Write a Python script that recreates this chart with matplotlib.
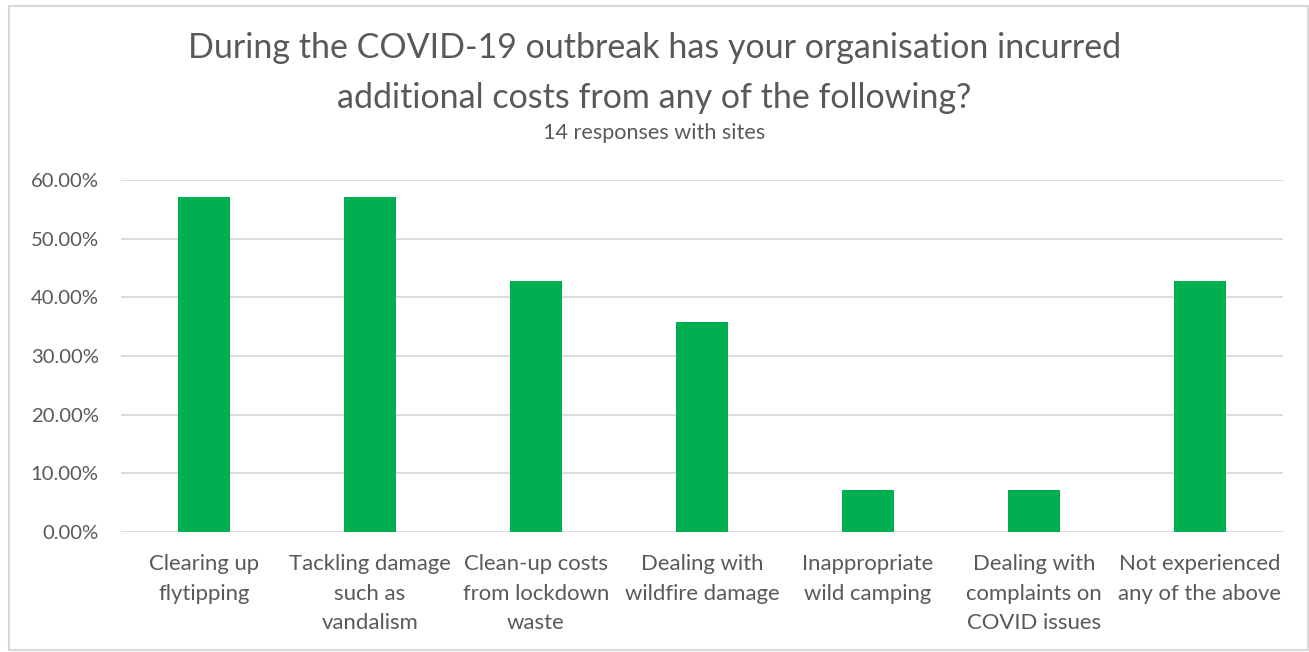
import matplotlib.pyplot as plt
from matplotlib.patches import Rectangle
from matplotlib.ticker import FuncFormatter

# Survey results: share of the 14 responding sites reporting each extra cost
categories = [
    "Clearing up\nflytipping",
    "Tackling damage\nsuch as\nvandalism",
    "Clean-up costs\nfrom lockdown\nwaste",
    "Dealing with\nwildfire damage",
    "Inappropriate\nwild camping",
    "Dealing with\ncomplaints on\nCOVID issues",
    "Not experienced\nany of the above",
]
shares = [8 / 14, 8 / 14, 6 / 14, 5 / 14, 1 / 14, 1 / 14, 6 / 14]
y_ticks = [0.0, 0.1, 0.2, 0.3, 0.4, 0.5, 0.6]

TEXT = "#595959"
GRID = "#d9d9d9"
GREEN = "#00b050"

plt.rcParams["font.family"] = ["Lato", "DejaVu Sans"]

W, H = 1309, 652
fig = plt.figure(figsize=(W / 100, H / 100), dpi=100)

# chart border
fig.patches.append(Rectangle((9 / W, 2 / H), 1299 / W, 644 / H, transform=fig.transFigure,
                             fill=False, edgecolor=GRID, linewidth=1.5))

ax = fig.add_axes([121 / W, 1 - 532 / H, 1162 / W, 352 / H])
x = range(len(categories))
ax.bar(x, shares, width=0.313, color=GREEN, zorder=3)

ax.set_xlim(-0.5, len(categories) - 0.5)
ax.set_ylim(0, 0.6)
ax.set_yticks(y_ticks)
ax.yaxis.set_major_formatter(FuncFormatter(lambda v, _: f"{v * 100:.2f}%"))
ax.set_xticks(list(x))
ax.set_xticklabels(categories, linespacing=1.6, va="top", fontsize=15.9)
ax.tick_params(axis="both", length=0, colors=TEXT)
ax.tick_params(axis="y", pad=16, labelsize=14.6)
ax.tick_params(axis="x", pad=16)
ax.grid(axis="y", color=GRID, linewidth=1.3, zorder=0)
for s in ax.spines.values():
    s.set_visible(False)

fig.text(0.5, 1 - 73 / H,
         "During the COVID-19 outbreak has your organisation incurred\n"
         "additional costs from any of the following?",
         ha="center", va="center", fontsize=24.5, color=TEXT, linespacing=1.7)
fig.text(0.5, 1 - 133 / H, "14 responses with sites", ha="center", va="center",
         fontsize=15.6, color=TEXT)

fig.savefig("out.png", dpi=100)
